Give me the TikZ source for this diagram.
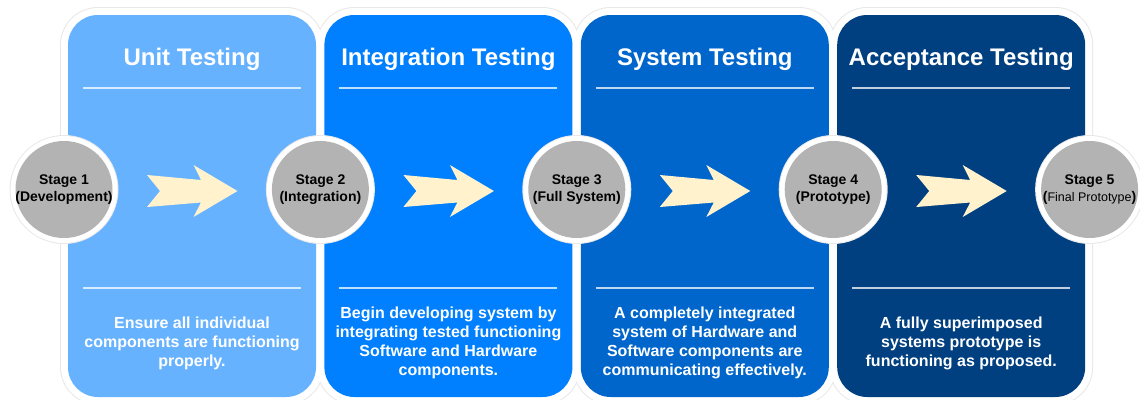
\documentclass[tikz,border=0pt]{standalone}
\usepackage{fontspec}
\setmainfont{Liberation Sans}
\usepackage{xcolor}
\usepackage{tikz}
\usetikzlibrary{positioning}

\definecolor{unitblue}{RGB}{102,178,255}
\definecolor{integblue}{RGB}{0,128,255}
\definecolor{sysblue}{RGB}{0,102,204}
\definecolor{accblue}{RGB}{0,64,128}
\definecolor{stagegray}{RGB}{179,179,179}
\definecolor{arrowcream}{RGB}{255,242,204}
\definecolor{rimgray}{RGB}{232,232,232}

\tikzset{
  paneltitle/.style={text=white, anchor=base, font=\fontsize{24}{28}\selectfont\bfseries},
  panelbody/.style={text=white, align=center, font=\fontsize{16}{19}\selectfont\bfseries},
  stagetext/.style={align=center, font=\fontsize{14}{17}\selectfont\bfseries},
  panelrule/.style={draw=white, draw opacity=0.75, line width=2pt},
}

\begin{document}
\begin{tikzpicture}[x=1pt, y=-1pt]
  \useasboundingbox (0,0) rectangle (1140,399);

  % rims and panels
  \foreach \i in {0,...,3} {
    \pgfmathsetmacro{\px}{68+256.4*\i}
    \fill[rimgray, rounded corners=38pt] ({\px-8},7) rectangle ({\px+256},405);
  }
  \foreach \i in {0,...,3} {
    \pgfmathsetmacro{\px}{68+256.4*\i}
    \fill[white, rounded corners=37pt] ({\px-7},8) rectangle ({\px+255},404);
  }
  \foreach \col [count=\i from 0] in {unitblue,integblue,sysblue,accblue} {
    \pgfmathsetmacro{\px}{68+256.4*\i}
    \pgfmathsetmacro{\cx}{\px+124}
    \fill[\col, rounded corners=30pt] (\px,15) rectangle ({\px+248},397);
    \draw[panelrule] ({\px+15},88) -- ({\px+233},88);
    \draw[panelrule] ({\px+15},288) -- ({\px+233},288);
    % block arrow
    \fill[arrowcream] ({\cx-45},175) -- ({\cx-32},191) -- ({\cx-45},207)
      -- ({\cx+9},202.5) -- ({\cx+1.5},217) -- ({\cx+45.5},191)
      -- ({\cx+1.5},165) -- ({\cx+9},180) -- cycle;
  }

  % stage circles
  \foreach \i in {0,...,4} {
    \pgfmathsetmacro{\sx}{64+256.4*\i}
    \fill[rimgray] (\sx,189.5) circle (54.5);
    \fill[white] (\sx,189.5) circle (53.5);
    \fill[stagegray] (\sx,189.5) circle (48.5);
  }

  % titles
  \node[paneltitle] (title1) at (192,65.5) {Unit Testing};
  \node[paneltitle] (title2) at (448.4,65.5) {Integration Testing};
  \node[paneltitle] (title3) at (704.8,65.5) {System Testing};
  \node[paneltitle] (title4) at (961.2,65.5) {Acceptance Testing};

  % descriptions
  \node[panelbody] (body1) at (192,343) {Ensure all individual\\components are functioning\\properly.};
  \node[panelbody] (body2) at (448.4,343) {Begin developing system by\\integrating tested functioning\\Software and Hardware\\components.};
  \node[panelbody] (body3) at (704.8,343) {A completely integrated\\system of Hardware and\\Software components are\\communicating effectively.};
  \node[panelbody] (body4) at (961.2,343) {A fully superimposed\\systems prototype is\\functioning as proposed.};

  % stages
  \node[stagetext] (stage1) at (64,190) {Stage 1\\(Development)};
  \node[stagetext] (stage2) at (320.4,190) {Stage 2\\(Integration)};
  \node[stagetext] (stage3) at (576.8,190) {Stage 3\\(Full System)};
  \node[stagetext] (stage4) at (833.2,190) {Stage 4\\(Prototype)};
  \node[stagetext] (stage5) at (1089.6,190) {Stage 5\\({\fontsize{12.5}{17}\selectfont\mdseries Final Prototype})};
\end{tikzpicture}
\end{document}
